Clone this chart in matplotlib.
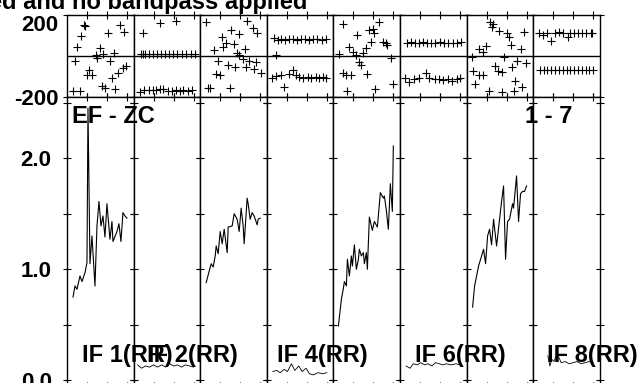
import matplotlib
matplotlib.use('Agg')
import matplotlib.pyplot as plt
from matplotlib.ticker import FixedLocator

plt.rcParams['font.family'] = ['Liberation Sans', 'DejaVu Sans']

# Phase (deg) per IF, time as fraction of the scan
ph1_t = [0.25, 0.27, 0.21, 0.15, 0.62, 0.79, 0.85, 0.49, 0.43, 0.45, 0.54, 0.71, 0.12,
         0.64, 0.33, 0.30, 0.38, 0.88, 0.84, 0.76, 0.67, 0.52, 0.57, 0.72, 0.09, 0.19]
ph1_v = [151, 146, 98, 46, 114, 151, 119, 37, 5, -11, 10, 16, -23,
         -23, -68, -93, -93, -49, -57, -85, -109, -146, -158, -163, -169, -169]

ph3_t = [0.09, 0.71, 0.79, 0.86, 0.46, 0.59, 0.33, 0.39, 0.34, 0.51, 0.21, 0.68, 0.56, 0.59,
         0.26, 0.64, 0.74, 0.84, 0.41, 0.53, 0.69, 0.81, 0.91, 0.23, 0.29, 0.11, 0.15, 0.44]
ph3_v = [167, 172, 135, 114, 127, 107, 91, 62, 42, 59, 29, 33, 13, 5,
         -23, -16, -23, -28, -44, -55, -55, -65, -85, -88, -93, -158, -158, -158]

ph5_t = [0.14, 0.69, 0.59, 0.54, 0.61, 0.36, 0.56, 0.74, 0.79, 0.81, 0.24, 0.49, 0.29,
         0.44, 0.09, 0.34, 0.86, 0.39, 0.41, 0.14, 0.19, 0.26, 0.51, 0.90, 0.21, 0.62]
ph5_v = [156, 167, 130, 127, 114, 102, 67, 67, 62, 54, 42, 37, 21,
         13, 10, 5, -11, -28, -44, -85, -93, -93, -88, -137, -169, -163]

ph7_t = [0.35, 0.40, 0.38, 0.48, 0.61, 0.63, 0.86, 0.66, 0.81, 0.18, 0.25, 0.29, 0.08, 0.56, 0.76,
         0.89, 0.68, 0.43, 0.47, 0.53, 0.10, 0.19, 0.25, 0.13, 0.73, 0.83, 0.71, 0.33, 0.53]
ph7_v = [167, 156, 143, 124, 114, 94, 119, 54, 33, 33, 21, 49, -3, -3, -23,
         -33, -52, -49, -72, -76, -72, -93, -93, -137, -120, -153, -169, -169, -174]

# even IFs: two groups of points
ph2a_t = [0.11, 0.14, 0.17, 0.23, 0.29, 0.35, 0.41, 0.47, 0.53, 0.59, 0.65, 0.72, 0.79, 0.86, 0.92,
          0.14, 0.40, 0.64]
ph2a_v = [10, 8, 10, 12, 10, 9, 10, 10, 11, 10, 9, 10, 10, 11, 10, 114, 159, 172]
ph2b_t = [0.09, 0.16, 0.23, 0.29, 0.34, 0.39, 0.44, 0.52, 0.57, 0.63, 0.69, 0.74, 0.82, 0.87]
ph2b_v = [-174, -167, -166, -166, -165, -163, -163, -169, -172, -168, -169, -166, -169, -166]

ph4a_t = [0.11, 0.17, 0.22, 0.28, 0.34, 0.40, 0.46, 0.52, 0.58, 0.64, 0.70, 0.76, 0.83, 0.89, 0.14]
ph4a_v = [90, 80, 82, 80, 83, 81, 80, 82, 81, 80, 81, 82, 80, 81, 5]
ph4b_t = [0.08, 0.14, 0.21, 0.26, 0.34, 0.39, 0.44, 0.49, 0.54, 0.62, 0.67, 0.74, 0.79, 0.84, 0.89]
ph4b_v = [-106, -98, -93, -150, -88, -68, -93, -101, -109, -101, -109, -101, -109, -101, -109]

ph6a_t = [0.10, 0.16, 0.22, 0.28, 0.35, 0.41, 0.47, 0.53, 0.60, 0.66, 0.72, 0.79, 0.85, 0.92]
ph6a_v = [65, 66, 64, 65, 66, 65, 64, 65, 66, 65, 64, 65, 65, 66]
ph6b_t = [0.08, 0.14, 0.21, 0.28, 0.39, 0.44, 0.52, 0.58, 0.64, 0.72, 0.78, 0.85, 0.90]
ph6b_v = [-109, -125, -112, -109, -81, -109, -112, -112, -117, -112, -120, -112, -109]

ph8a_t = [0.08, 0.14, 0.20, 0.26, 0.33, 0.39, 0.44, 0.52, 0.55, 0.62, 0.68, 0.74, 0.80, 0.87, 0.89]
ph8a_v = [111, 102, 111, 75, 114, 119, 114, 94, 111, 114, 111, 111, 111, 111, 111]
ph8b_t = [0.10, 0.16, 0.21, 0.27, 0.33, 0.39, 0.44, 0.50, 0.56, 0.61, 0.67, 0.73, 0.79, 0.84, 0.90]
ph8b_v = [-68, -67, -68, -69, -68, -67, -68, -68, -69, -68, -67, -68, -68, -69, -68]

# Amplitude per IF
amp1_t = [0.09, 0.12, 0.15, 0.195, 0.225, 0.27, 0.30, 0.315, 0.345, 0.375, 0.42, 0.45, 0.48,
          0.51, 0.54, 0.57, 0.60, 0.645, 0.675, 0.69, 0.75, 0.78, 0.81, 0.84, 0.87, 0.90]
amp1_v = [0.75, 0.85, 0.82, 0.94, 0.89, 0.97, 1.06, 2.45, 1.05, 1.30, 0.85, 1.39, 1.61,
          1.39, 1.48, 1.29, 1.59, 1.27, 1.43, 1.25, 1.34, 1.41, 1.25, 1.51, 1.48, 1.46]

amp3_t = [0.09, 0.12, 0.165, 0.195, 0.225, 0.24, 0.27, 0.30, 0.33, 0.36, 0.405, 0.42, 0.48, 0.51,
          0.555, 0.585, 0.615, 0.645, 0.66, 0.705, 0.72, 0.75, 0.78, 0.81, 0.855, 0.87, 0.90]
amp3_v = [0.88, 0.95, 1.05, 1.02, 1.12, 1.21, 1.14, 1.34, 1.23, 1.36, 1.15, 1.38, 1.39, 1.50,
          1.45, 1.34, 1.55, 1.39, 1.23, 1.64, 1.59, 1.45, 1.51, 1.48, 1.40, 1.45, 1.46]

amp5_t = [0.075, 0.12, 0.15, 0.165, 0.195, 0.21, 0.24, 0.27, 0.285, 0.315, 0.345, 0.375, 0.39, 0.42, 0.45,
          0.465, 0.495, 0.51, 0.54, 0.585, 0.615, 0.66, 0.705, 0.75, 0.765, 0.795, 0.825, 0.855, 0.885, 0.90]
amp5_v = [0.49, 0.73, 0.83, 0.89, 0.85, 1.09, 0.94, 1.12, 1.03, 1.22, 1.00, 1.09, 1.18, 1.12, 1.15,
          1.05, 1.15, 1.00, 1.47, 1.35, 1.43, 1.38, 1.69, 1.64, 1.66, 1.53, 1.36, 1.77, 1.52, 2.11]

amp7_t = [0.09, 0.12, 0.15, 0.18, 0.225, 0.255, 0.285, 0.315, 0.345, 0.375, 0.405, 0.45, 0.495,
          0.525, 0.555, 0.585, 0.615, 0.645, 0.69, 0.705, 0.75, 0.78, 0.81, 0.84, 0.87, 0.90]
amp7_v = [0.66, 0.85, 0.94, 1.03, 1.12, 1.18, 1.05, 1.30, 1.36, 1.22, 1.45, 1.21, 1.45,
          1.61, 1.75, 1.09, 1.43, 1.45, 1.59, 1.55, 1.84, 1.43, 1.68, 1.70, 1.70, 1.75]

amp2_t = [0.06, 0.12, 0.18, 0.24, 0.30, 0.36, 0.42, 0.48, 0.54, 0.60, 0.66, 0.72, 0.78, 0.84, 0.90]
amp2_v = [0.14, 0.11, 0.13, 0.12, 0.14, 0.12, 0.14, 0.12, 0.15, 0.13, 0.14, 0.12, 0.14, 0.13, 0.12]
amp4_t = [0.09, 0.15, 0.20, 0.26, 0.31, 0.37, 0.42, 0.48, 0.53, 0.59, 0.64, 0.70, 0.77, 0.84, 0.90]
amp4_v = [0.08, 0.09, 0.07, 0.10, 0.08, 0.15, 0.09, 0.13, 0.08, 0.11, 0.06, 0.05, 0.07, 0.06, 0.07]
amp6_t = [0.09, 0.15, 0.20, 0.26, 0.31, 0.37, 0.42, 0.48, 0.53, 0.59, 0.64, 0.70, 0.77, 0.84, 0.90]
amp6_v = [0.13, 0.11, 0.15, 0.14, 0.16, 0.14, 0.15, 0.13, 0.16, 0.15, 0.14, 0.15, 0.14, 0.15, 0.14]
amp8_t = [0.22, 0.25, 0.28, 0.31, 0.36, 0.42, 0.48, 0.54, 0.60, 0.66, 0.72, 0.78, 0.84, 0.90]
amp8_v = [0.22, 0.13, 0.19, 0.17, 0.24, 0.16, 0.17, 0.15, 0.16, 0.17, 0.15, 0.16, 0.17, 0.16]

phase_pts = [
    [(ph1_t, ph1_v)], [(ph2a_t, ph2a_v), (ph2b_t, ph2b_v)],
    [(ph3_t, ph3_v)], [(ph4a_t, ph4a_v), (ph4b_t, ph4b_v)],
    [(ph5_t, ph5_v)], [(ph6a_t, ph6a_v), (ph6b_t, ph6b_v)],
    [(ph7_t, ph7_v)], [(ph8a_t, ph8a_v), (ph8b_t, ph8b_v)],
]
amp_lines = [(amp1_t, amp1_v), (amp2_t, amp2_v), (amp3_t, amp3_v), (amp4_t, amp4_v),
             (amp5_t, amp5_v), (amp6_t, amp6_v), (amp7_t, amp7_v), (amp8_t, amp8_v)]

# IF labels that show on the plot (pixel x of left edge)
if_labels = ['IF 1(RR)', 'IF 2(RR)', 'IF 4(RR)', 'IF 6(RR)', 'IF 8(RR)']
if_label_x = [82, 147, 277, 415, 547]

W, H = 640, 383
fig = plt.figure(figsize=(6.4, 3.83), dpi=100)
FS = 17

x0, pw = 67, 66.6
for i in range(8):
    left = (x0 + i * pw) / W
    axp = fig.add_axes([left, 1 - 97 / H, pw / W, (97 - 15) / H])
    axa = fig.add_axes([left, 1 - 386 / H, pw / W, (386 - 97) / H])

    for t, v in phase_pts[i]:
        axp.plot(t, v, '+', color='black', ms=6, mew=0.8)
    axp.axhline(0, color='black', lw=1)
    axp.set_ylim(-200, 200)
    axp.set_yticks([-200, 200])

    t, v = amp_lines[i]
    axa.plot(t, v, color='black', lw=0.8 if i % 2 == 0 else 0.6)
    axa.set_ylim(-0.05, 2.55)
    axa.yaxis.set_major_locator(FixedLocator([0, 1, 2]))
    axa.yaxis.set_minor_locator(FixedLocator([0.5, 1.5, 2.5]))

    for ax in (axp, axa):
        ax.set_xlim(0, 1)
        ax.set_xticks([0.3, 0.6, 0.9])
        ax.tick_params(which='both', direction='inout', length=6, width=0.8,
                       top=True, right=True, labelbottom=False)
        for s in ax.spines.values():
            s.set_linewidth(1)
        if i != 0:
            ax.tick_params(axis='y', labelleft=False)
    if i == 0:
        axp.tick_params(axis='y', labelsize=FS - 1, pad=3)
        axa.tick_params(axis='y', labelsize=FS - 1, pad=8)
        axa.set_yticklabels(['0.0', '1.0', '2.0'], fontweight='bold')
        axp.set_yticklabels(['-200', '200'], fontweight='bold')
        labs = axp.get_yticklabels()
        labs[1].set_verticalalignment('top')

def fx(px):
    return px / W

def fy(py):
    return 1 - py / H

fig.text(fx(307), fy(9), 'Calibrated and no bandpass applied', ha='right', va='baseline',
         fontsize=FS, fontweight='bold')
fig.text(fx(72), fy(123), 'EF - ZC', ha='left', va='baseline', fontsize=FS, fontweight='bold')
fig.text(fx(525), fy(123), '1 - 7', ha='left', va='baseline', fontsize=FS, fontweight='bold')
for lab, px in zip(if_labels, if_label_x):
    fig.text(fx(px), fy(362), lab, ha='left', va='baseline', fontsize=FS, fontweight='bold')

fig.savefig('out.png', dpi=100, facecolor='white')
